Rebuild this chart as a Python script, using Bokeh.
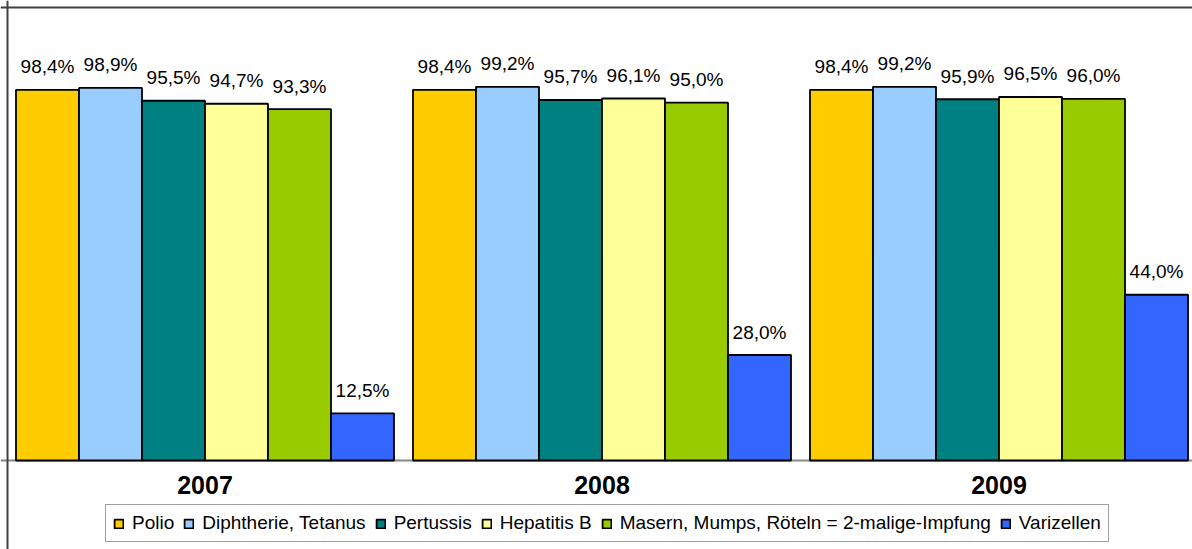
from bokeh.plotting import figure
from bokeh.models import ColumnDataSource, Range1d, Span
from bokeh.core.properties import value
from bokeh.embed import file_html
from bokeh.resources import INLINE

# ---- data ----
years = ["2007", "2008", "2009"]
series_names = ["Polio", "Diphtherie, Tetanus", "Pertussis", "Hepatitis B",
                "Masern, Mumps, Röteln = 2-malige-Impfung", "Varizellen"]
polio = [98.4, 98.4, 98.4]
diphtherie_tetanus = [98.9, 99.2, 99.2]
pertussis = [95.5, 95.7, 95.9]
hepatitis_b = [94.7, 96.1, 96.5]
mmr = [93.3, 95.0, 96.0]
varizellen = [12.5, 28.0, 44.0]
series_values = [polio, diphtherie_tetanus, pertussis, hepatitis_b, mmr, varizellen]
colors = ["#FFCC00", "#99CCFF", "#008080", "#FFFF99", "#99CC00", "#3366FF"]

# ---- layout constants ----
W, H = 1192, 549
PX_PER_UNIT = 397.0          # pixels per year group
PX_PER_PCT = 3.767           # pixels per percent
BASE_PX = 460.0              # baseline from top of canvas
x_start = -204.5 / PX_PER_UNIT
x_end = x_start + W / PX_PER_UNIT
y_end = BASE_PX / PX_PER_PCT
y_start = -(H - BASE_PX) / PX_PER_PCT
BAR_W = 63.0 / PX_PER_UNIT
FONT = value("Liberation Sans")

p = figure(width=W, height=H, output_backend="svg", toolbar_location=None,
           x_axis_type=None, y_axis_type=None,
           x_range=Range1d(x_start, x_end), y_range=Range1d(y_start, y_end),
           min_border=0, outline_line_color=None,
           background_fill_color="white", border_fill_color="white")

# baseline (category axis line)
p.add_layout(Span(location=0, dimension="width", line_color="#888888",
                  line_width=2, level="underlay"))
# chart border (top and left)
p.add_layout(Span(location=y_end - 7.0 / PX_PER_PCT, dimension="width",
                  line_color="#404040", line_width=2))
p.add_layout(Span(location=x_start + 7.0 / PX_PER_UNIT, dimension="height",
                  line_color="#404040", line_width=2))

n = len(series_names)
for i, (name, vals, col) in enumerate(zip(series_names, series_values, colors)):
    xs = [g + (i - (n - 1) / 2.0) * BAR_W for g in range(len(years))]
    labels = [("%.1f%%" % v).replace(".", ",") for v in vals]
    src = ColumnDataSource(dict(x=xs, top=vals, label=labels))
    p.vbar(x="x", top="top", bottom=0, width=BAR_W, source=src,
           fill_color=col, line_color="black", line_width=1.8,
           legend_label=name)
    p.text(x="x", y="top", text="label", source=src,
           text_align="center", text_baseline="alphabetic", y_offset=-23,
           text_font=FONT, text_font_size="19px", text_color="black")

# year labels
ysrc = ColumnDataSource(dict(x=list(range(len(years))), y=[0] * len(years), t=years))
p.text(x="x", y="y", text="t", source=ysrc, text_align="center",
       text_baseline="alphabetic", y_offset=24, text_font=FONT,
       text_font_size="25px", text_font_style="bold", text_color="black")

lg = p.legend[0]
lg.orientation = "horizontal"
lg.location = (105, H - 542)
lg.margin = 0
lg.padding = 7
lg.spacing = 9
lg.label_standoff = 8
lg.glyph_width = 11
lg.glyph_height = 11
lg.label_height = 22
lg.label_text_font = "Liberation Sans"
lg.label_text_font_size = "19px"
lg.label_text_color = "black"
lg.border_line_color = "#404040"
lg.border_line_width = 1.5
lg.background_fill_color = "white"
lg.background_fill_alpha = 1.0

open("out.html", "w").write(file_html(p, INLINE))
